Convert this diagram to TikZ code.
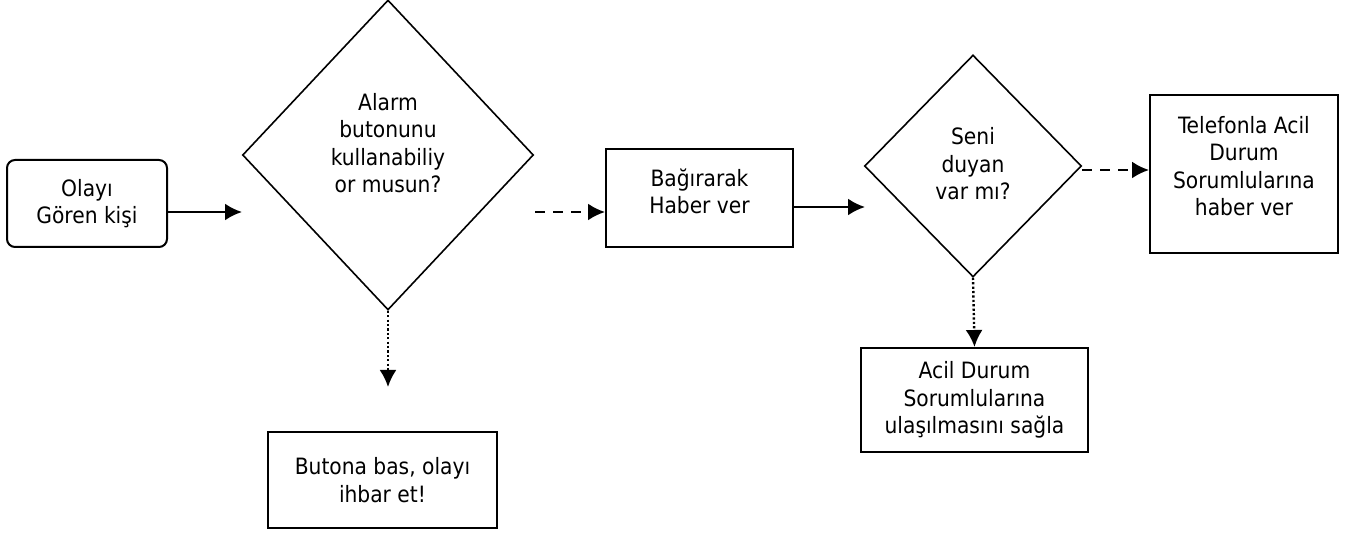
\documentclass[tikz,border=0pt]{standalone}
\usepackage{fontspec}
\setmainfont{DejaVu Sans Condensed}
\usetikzlibrary{shapes.geometric,arrows.meta}

\begin{document}
\begin{tikzpicture}[x=1pt,y=-1pt,
    every node/.style={font=\fontsize{22.5}{27.5}\selectfont, align=center},
    kutu/.style={draw, line width=2pt, inner sep=0pt},
    karar/.style={draw, diamond, line width=1.6pt, inner sep=0pt},
    ok/.style={line width=2.4pt, -{Latex[length=17pt,width=17pt]}},
    kesik/.style={ok, dash pattern=on 10pt off 8pt},
    nokta/.style={line width=2.4pt, dash pattern=on 2.2pt off 2.2pt, -{Latex[length=17pt,width=17pt]}}]
				\useasboundingbox (0,0) rectangle (1358,534);
				% kutular
				\node [kutu, rounded corners=8pt, minimum width=160pt, minimum height=87pt] (olay) at (87,203.5) {Olayı\\Gören kişi};
				\node [karar, minimum width=291pt, minimum height=310pt] (alarm) at (388,155) {};
				\node (alarmyazi) at ([yshift=12pt]alarm.center) {Alarm\\butonunu\\kullanabiliy\\or musun?};
				\node [kutu, minimum width=229pt, minimum height=96pt] (buton) at (382.5,480) {Butona bas, olayı\\ihbar et!};
				\node [kutu, minimum width=187pt, minimum height=98pt] (bagir) at (699.5,198) {Bağırarak\\Haber ver\\[-13.5pt]};
				\node [karar, minimum width=217pt, minimum height=222pt] (duyan) at (973,166) {};
				\node (duyanyazi) at ([yshift=2pt]duyan.center) {Seni\\duyan\\var mı?};
				\node [kutu, minimum width=188pt, minimum height=158pt] (telefon) at (1244,174) {Telefonla Acil\\Durum\\Sorumlularına\\haber ver\\[-11.5pt]};
				\node [kutu, minimum width=227pt, minimum height=104pt] (acil) at (974.5,400) {Acil Durum\\Sorumlularına\\ulaşılmasını sağla};
				% ok uclari
				\coordinate (a1) at (242,212);
				\coordinate (a2) at (535,212);
				\coordinate (a3) at (388,387);
				\coordinate (a4) at (865,207);
				% oklar
				\draw [ok] (olay.east |- a1) -- (a1);
				\draw [kesik] (a2) -- (bagir.west |- a2);
				\draw [nokta] (alarm.south) -- (a3);
				\draw [ok] (bagir.east |- a4) -- (a4);
				\draw [kesik] ([yshift=-4pt]duyan.east) -- (telefon.west |- 0,170);
				\draw [nokta] (duyan.south) -- (acil.north);
\end{tikzpicture}
\end{document}
